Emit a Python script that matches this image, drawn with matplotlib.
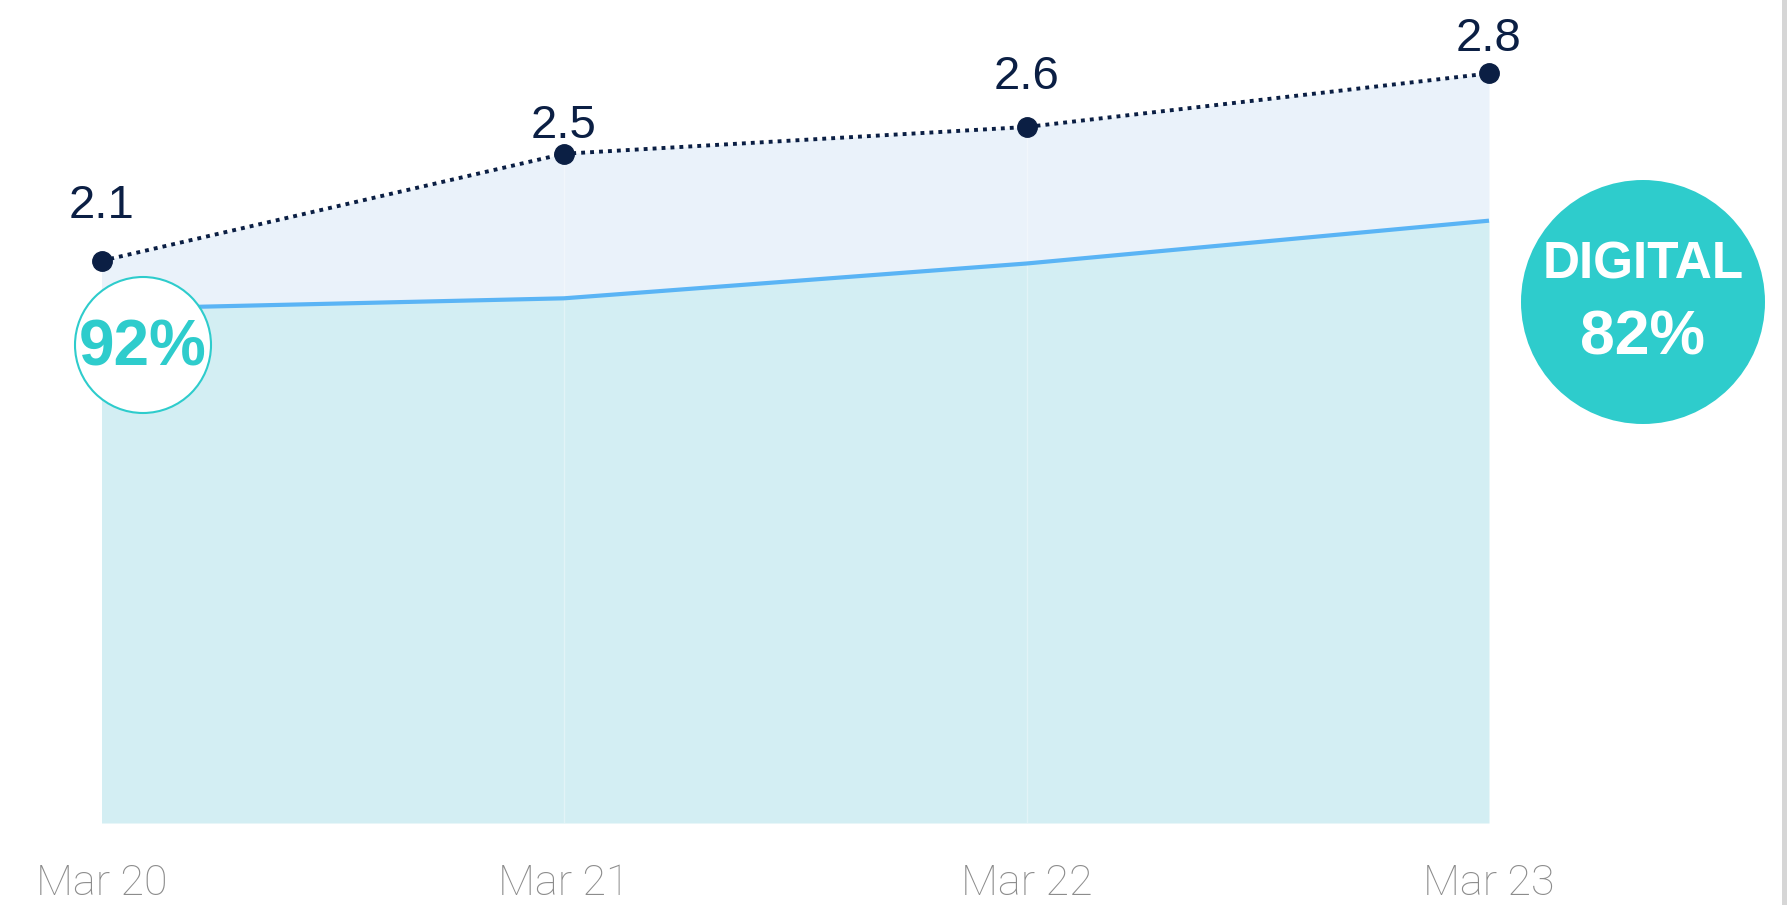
import matplotlib
matplotlib.use('Agg')
import matplotlib.pyplot as plt
from matplotlib import font_manager
from matplotlib.patches import Circle, Rectangle

# data
periods = ['Mar 20', 'Mar 21', 'Mar 22', 'Mar 23']
total = [2.1, 2.5, 2.6, 2.8]
digital = [1.92, 1.96, 2.09, 2.25]
total_labels = ['2.1', '2.5', '2.6', '2.8']
first_share = '92%'
last_share = 'DIGITAL\n82%'

# colours
navy = '#0b1f44'
teal = '#2ecccc'
line_blue = '#5ab4f5'
fill_top = '#eaf2fa'
fill_low = '#d3eef3'

names = {f.name for f in font_manager.fontManager.ttflist}
tick_font = 'Roboto' if 'Roboto' in names else 'DejaVu Sans'

W, H = 1787, 905
fig = plt.figure(figsize=(W / 100, H / 100), dpi=100)

# main axes: zero sits at pixel row 823, one unit = 267.7 px
ax = fig.add_axes([0, 82 / H, 1, 1 - 82 / H])
ax.set_ylim(0, 823 / 267.7)
ax.set_xlim(-101.5 / 462.5, (W - 101.5) / 462.5)

x = list(range(len(periods)))
ax.fill_between(x, digital, total, color=fill_top, lw=0)
ax.fill_between(x, 0, digital, color=fill_low, lw=0)
for xi in x[1:-1]:
    ax.plot([xi, xi], [0, total[xi]], color='white', alpha=0.35, lw=1, zorder=1)
ax.plot(x, digital, color=line_blue, lw=3, solid_capstyle='butt', zorder=2)
ax.plot(x, total, color=navy, lw=2.8, ls=(0, (1, 1.3)), zorder=3)
ax.plot(x, total, 'o', color=navy, ms=14, zorder=4)

# value labels above the dots
label_dy = [31, 11, 27, 16]
for xi, v, t, dy in zip(x, total, total_labels, label_dy):
    ax.annotate(t, (xi, v), xytext=(0, dy), textcoords='offset points',
                ha='center', va='baseline', fontsize=34, color=navy,
                family='Liberation Sans')

ax.set_xticks(x)
ax.set_xticklabels(periods, family=tick_font, fontweight='light', fontsize=31,
                   color='#8c8c8c')
ax.tick_params(axis='x', length=0, pad=29)
ax.set_yticks([])
for s in ax.spines.values():
    s.set_visible(False)

# overlay in pixel coordinates for the badges
ov = fig.add_axes([0, 0, 1, 1])
ov.set_xlim(0, W)
ov.set_ylim(H, 0)
ov.axis('off')
ov.add_patch(Circle((143, 345), 68, facecolor='white', edgecolor=teal, lw=1.5, zorder=5))
ov.text(143, 348, first_share, ha='center', va='center', fontsize=46,
        fontweight='bold', color=teal, family='Liberation Sans', zorder=6)
ov.add_patch(Circle((1643, 302), 122, facecolor=teal, edgecolor='none', zorder=5))
ov.text(1643, 265, last_share.split('\n')[0], ha='center', va='center', fontsize=37,
        fontweight='bold', color='white', family='Liberation Sans', zorder=6)
ov.text(1643, 338, last_share.split('\n')[1], ha='center', va='center', fontsize=45,
        fontweight='bold', color='white', family='Liberation Sans', zorder=6)
ov.add_patch(Rectangle((1782, 0), 5, H, facecolor='#d6d6d6', edgecolor='none'))

fig.savefig('out.png', dpi=100)
